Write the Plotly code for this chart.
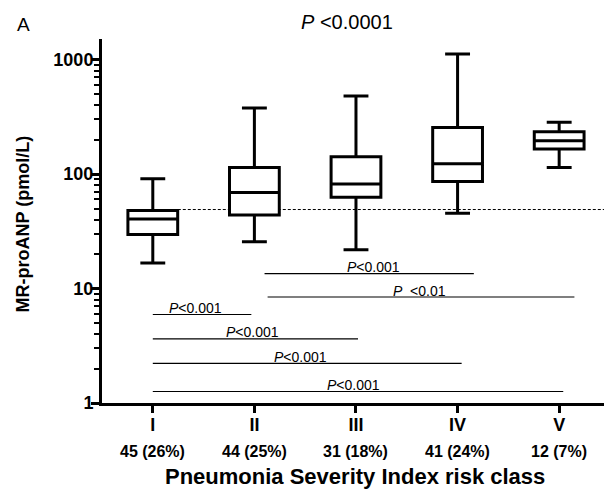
import math
import plotly.graph_objects as go

# ---- data ----
categories = ["I", "II", "III", "IV", "V"]
counts = ["45 (26%)", "44 (25%)", "31 (18%)", "41 (24%)", "12 (7%)"]
lower_whisker = [16.7, 25.6, 21.8, 45.5, 114]
q1_vals = [29.6, 44, 62.7, 86, 165.5]
median_vals = [40.6, 69, 82, 123, 195]
q3_vals = [48, 114, 142, 255, 234]
upper_whisker = [91, 377, 482, 1119, 284]
cutoff_value = 49
overall_p = "<0.0001"

# pairwise comparisons: start category index, end category index, level (pmol/L), label
bracket_start = [1.1, 1.13, 0, 0, 0, 0]
bracket_end = [3.16, 4.15, 0.97, 2.02, 3.04, 4.04]
bracket_level = [13.5, 8.43, 5.93, 3.63, 2.22, 1.26]
bracket_pval = ["<0.001", "<0.01", "<0.001", "<0.001", "<0.001", "<0.001"]
bracket_label_x = [2.17, 2.63, 0.42, 0.98, 1.45, 1.98]

y_ticks = [1, 10, 100, 1000]
y_minor = [m * 10 ** d for d in range(0, 4) for m in range(2, 10)]

FONT = "Liberation Sans, Arial, sans-serif"
xpos = list(range(len(categories)))

fig = go.Figure()
fig.add_trace(go.Box(
    x=xpos, q1=q1_vals, median=median_vals, q3=q3_vals,
    lowerfence=lower_whisker, upperfence=upper_whisker,
    fillcolor="white", line=dict(color="black", width=3),
    whiskerwidth=0.5, boxpoints=False, hoverinfo="skip", showlegend=False,
))

shapes = [dict(type="line", xref="x", yref="y", x0=0, x1=4.52,
               y0=cutoff_value, y1=cutoff_value, layer="below",
               line=dict(color="black", width=1, dash="3px,2px"))]
annotations = []
for s, e, lvl, p, lx in zip(bracket_start, bracket_end, bracket_level, bracket_pval, bracket_label_x):
    shapes.append(dict(type="line", xref="x", yref="y", x0=s, x1=e, y0=lvl, y1=lvl,
                       line=dict(color="black", width=1.2)))
    sep = "  " if p == "<0.01" else ""
    annotations.append(dict(x=lx, y=math.log10(lvl), xref="x", yref="y",
                            text="<i>P</i>" + sep + p.replace("<", "&lt;"),
                            showarrow=False, yanchor="middle", yshift=6.5,
                            font=dict(family=FONT, size=14, color="black")))

for i, c in enumerate(counts):
    annotations.append(dict(x=i, y=-0.134, xref="x", yref="paper", text="<b>%s</b>" % c,
                            showarrow=False, yanchor="middle",
                            font=dict(family=FONT, size=16, color="black")))

annotations.append(dict(x=0.497, y=-0.203, xref="paper", yref="paper",
                        text="<b>Pneumonia Severity Index risk class</b>", showarrow=False,
                        yanchor="middle", font=dict(family=FONT, size=22, color="black")))
annotations.append(dict(x=-0.155, y=0.493, xref="paper", yref="paper", textangle=-90,
                        text="<b>MR-proANP (pmol/L)</b>", showarrow=False,
                        xanchor="center", yanchor="middle",
                        font=dict(family=FONT, size=18, color="black")))
annotations.append(dict(x=0.481, y=1.048, xref="paper", yref="paper",
                        text="<i>P</i> " + overall_p.replace("<", "&lt;"), showarrow=False,
                        yanchor="middle", font=dict(family=FONT, size=20, color="black")))
annotations.append(dict(x=-0.17, y=1.041, xref="paper", yref="paper", text="A",
                        showarrow=False, yanchor="middle",
                        font=dict(family=FONT, size=19, color="black")))

fig.update_layout(
    width=612, height=495,
    margin=dict(l=94, r=8, t=31, b=100),
    paper_bgcolor="white", plot_bgcolor="white",
    shapes=shapes, annotations=annotations,
    xaxis=dict(range=[-0.5, 4.52], tickvals=xpos, ticktext=["<b>%s</b>" % c for c in categories],
               showline=True, linewidth=3, linecolor="black", ticks="outside",
               ticklen=7, tickwidth=3, tickcolor="black", showgrid=False, zeroline=False,
               ticklabelstandoff=-4,
               tickfont=dict(family=FONT, size=18, color="black")),
    yaxis=dict(type="log", range=[0, 3.18], tickvals=y_ticks,
               ticktext=["<b>%d</b>" % t for t in y_ticks],
               showline=True, linewidth=3, linecolor="black", ticks="outside",
               ticklen=8, tickwidth=3, tickcolor="black", showgrid=False, zeroline=False,
               ticklabelstandoff=-6,
               tickfont=dict(family=FONT, size=18, color="black"),
               minor=dict(tickvals=y_minor, ticks="outside", ticklen=5, tickwidth=2,
                          tickcolor="black", showgrid=False)),
)

fig.write_html("out.html")
